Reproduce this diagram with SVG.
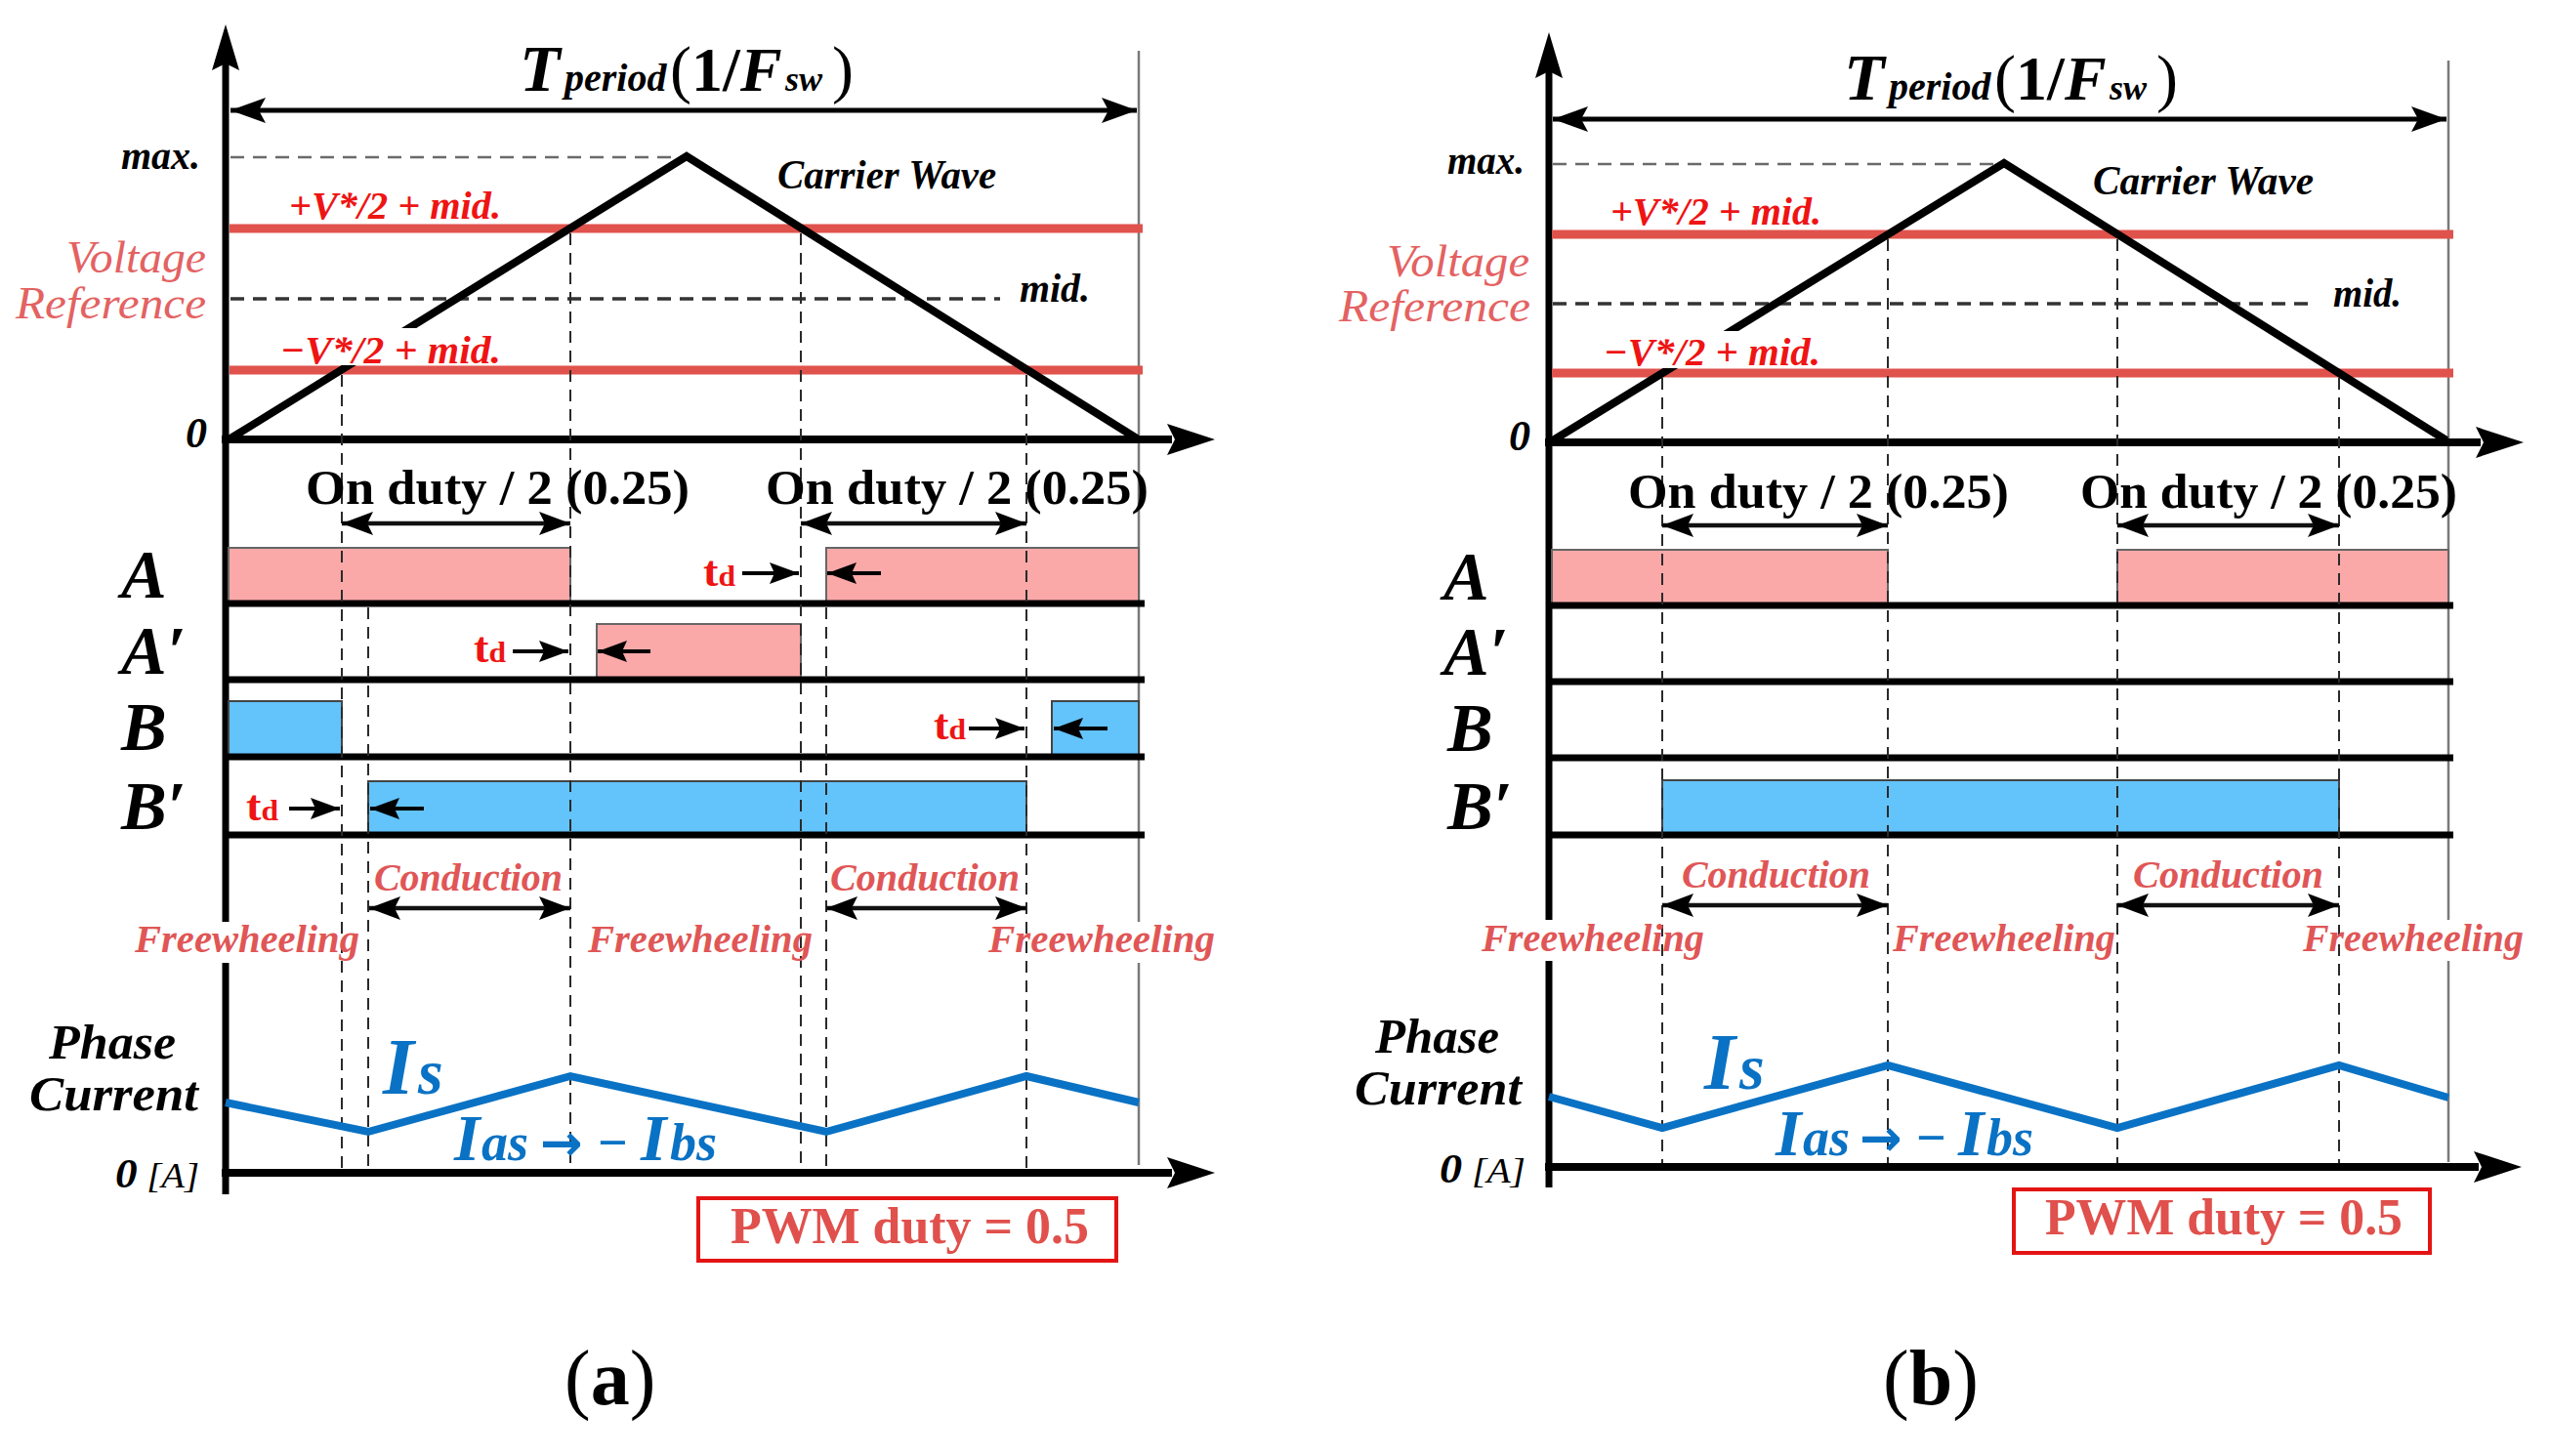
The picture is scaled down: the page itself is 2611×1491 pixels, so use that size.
<svg xmlns="http://www.w3.org/2000/svg" width="2611" height="1491" viewBox="0 0 2611 1491" font-family="'Liberation Serif', 'Times New Roman', serif">
<defs>
<style>
.t{font-family:"Liberation Serif","Times New Roman",serif}
.sym{font-family:"DejaVu Sans",sans-serif;font-style:normal;font-weight:700}
.bi{font-weight:700;font-style:italic}
.b{font-weight:700}
.i{font-style:italic}
.k{fill:#000}
.rd{fill:#ee1414}
.lr{fill:#e05656}
.lv{fill:#e36262}
.bu{fill:#0a72c4}
.pw{fill:#e0504c}
.ax{stroke:#000;stroke-width:7;fill:none}
.hx{stroke:#000;stroke-width:8;fill:none}
.bd{stroke:#7a7a7a;stroke-width:2.5}
.red{stroke:#e0524c;stroke-width:9}
.mx{stroke:#6a6a6a;stroke-width:2.5;stroke-dasharray:14 9}
.md{stroke:#333;stroke-width:3.5;stroke-dasharray:14 9}
.car{fill:none;stroke:#000;stroke-width:8;stroke-linejoin:miter}
.dash{stroke:#2a2a2a;stroke-width:2;stroke-dasharray:12 8;fill:none}
.pk{fill:#fba8a9;stroke:#666;stroke-width:2}
.bl{fill:#63c3fb;stroke:#444;stroke-width:2}
.base{stroke:#000;stroke-width:7}
.arr{stroke:#000;stroke-width:5;marker-start:url(#ah);marker-end:url(#ah)}
.arm{stroke:#111;stroke-width:4.5;marker-start:url(#am);marker-end:url(#am)}
.tda{stroke:#000;stroke-width:4;marker-end:url(#as)}
.cur{fill:none;stroke:#0a72c4;stroke-width:8;stroke-linejoin:miter}
.wb{fill:#fff}
.box{fill:#fff;stroke:#e41414;stroke-width:4}
</style>
<marker id="ah" viewBox="0 0 36 26" markerWidth="36" markerHeight="26" refX="36" refY="13" orient="auto-start-reverse" markerUnits="userSpaceOnUse"><path d="M0,0 L36,13 L0,26 L7,13 z" fill="#000"/></marker>
<marker id="am" viewBox="0 0 32 24" markerWidth="32" markerHeight="24" refX="32" refY="12" orient="auto-start-reverse" markerUnits="userSpaceOnUse"><path d="M0,0 L32,12 L0,24 L6,12 z" fill="#000"/></marker>
<marker id="as" viewBox="0 0 30 22" markerWidth="30" markerHeight="22" refX="30" refY="11" orient="auto" markerUnits="userSpaceOnUse"><path d="M0,0 L30,11 L0,22 L5,11 z" fill="#000"/></marker>
</defs>
<rect width="2611" height="1491" fill="#fff"/>

<!-- ================= PANEL A ================= -->
<g id="panel-a">
 <g id="a-axes">
  <line class="bd" x1="1166" y1="52" x2="1166" y2="1193"/>
  <line class="ax" x1="231" y1="60" x2="231" y2="1223"/>
  <polygon points="231,25 217,72 231,65 245,72" fill="#000"/>
  <line class="hx" x1="227" y1="450" x2="1200" y2="450"/>
  <polygon points="1244,450 1195,434 1203,450 1195,466" fill="#000"/>
  <line class="hx" x1="227" y1="1201" x2="1200" y2="1201"/>
  <polygon points="1244,1201 1195,1185 1203,1201 1195,1217" fill="#000"/>
 </g>
 <g id="a-period">
  <line class="arr" x1="236" y1="113" x2="1164" y2="113"/>
  <text class="t k" y="93"><tspan class="bi" x="532" font-size="68">T</tspan><tspan class="bi" x="578" font-size="40">period</tspan><tspan x="686" font-size="66">(</tspan><tspan class="b" x="708" font-size="64">1</tspan><tspan class="b" x="740" font-size="64">/</tspan><tspan class="bi" x="758" font-size="64">F</tspan><tspan class="bi" x="804" font-size="36">sw</tspan><tspan x="852" font-size="66">)</tspan></text>
 </g>
 <g id="a-carrier">
  <line class="mx" x1="236" y1="161" x2="703" y2="161"/>
  <line class="md" x1="236" y1="306" x2="1024" y2="306"/>
  <line class="red" x1="235" y1="234" x2="1170" y2="234"/>
  <line class="red" x1="235" y1="379" x2="1170" y2="379"/>
  <polyline class="car" points="236,449 703,160 1164,449"/>
  <rect class="wb" x="283" y="336" width="234" height="38"/>
  <text class="t bi k" x="124" y="173" font-size="42" textLength="81" lengthAdjust="spacingAndGlyphs">max.</text>
  <text class="t bi rd" x="296" y="224" font-size="40" textLength="217" lengthAdjust="spacingAndGlyphs">+V*/2 + mid.</text>
  <text class="t i lv" x="68" y="279" font-size="46" textLength="143" lengthAdjust="spacingAndGlyphs">Voltage</text>
  <text class="t i lv" x="16" y="326" font-size="46" textLength="195" lengthAdjust="spacingAndGlyphs">Reference</text>
  <text class="t bi k" x="1044" y="309" font-size="42" textLength="72" lengthAdjust="spacingAndGlyphs">mid.</text>
  <text class="t bi rd" x="287" y="372" font-size="40" textLength="226" lengthAdjust="spacingAndGlyphs">−V*/2 + mid.</text>
  <text class="t bi k" x="190" y="458" font-size="44">0</text>
  <text class="t bi k" x="796" y="193" font-size="42" textLength="224" lengthAdjust="spacingAndGlyphs">Carrier Wave</text>
 </g>
 <g id="a-switches">
  <rect class="pk" x="234" y="561" width="350" height="57"/>
  <rect class="pk" x="846" y="561" width="320" height="57"/>
  <rect class="pk" x="611" y="639" width="209" height="57"/>
  <rect class="bl" x="234" y="718" width="116" height="57"/>
  <rect class="bl" x="1077" y="718" width="89" height="57"/>
  <rect class="bl" x="377" y="800" width="674" height="55"/>
  <line class="base" x1="231" y1="618" x2="1172" y2="618"/>
  <line class="base" x1="231" y1="696" x2="1172" y2="696"/>
  <line class="base" x1="231" y1="775" x2="1172" y2="775"/>
  <line class="base" x1="231" y1="855" x2="1172" y2="855"/>
  <text class="t bi k" x="124" y="612" font-size="70">A</text>
  <text class="t bi k" x="124" y="690" font-size="70">A′</text>
  <text class="t bi k" x="124" y="768" font-size="70">B</text>
  <text class="t bi k" x="124" y="849" font-size="70">B′</text>
 </g>
 <g id="a-freewheel-bg">
  <rect class="wb" x="136" y="944" width="236" height="42"/>
  <rect class="wb" x="598" y="944" width="236" height="42"/>
  <rect class="wb" x="1008" y="944" width="238" height="42"/>
 </g>
 <g id="a-dashes">
  <line class="dash" x1="350" y1="384" x2="350" y2="1197"/>
  <line class="dash" x1="377" y1="622" x2="377" y2="1197"/>
  <line class="dash" x1="584" y1="239" x2="584" y2="1197"/>
  <line class="dash" x1="820" y1="239" x2="820" y2="1197"/>
  <line class="dash" x1="846" y1="622" x2="846" y2="1197"/>
  <line class="dash" x1="1051" y1="384" x2="1051" y2="1197"/>
 </g>
 <g id="a-onduty">
  <line class="arm" x1="350" y1="536" x2="584" y2="536"/>
  <line class="arm" x1="820" y1="536" x2="1051" y2="536"/>
  <text class="t b k" x="313" y="516" font-size="50" textLength="393" lengthAdjust="spacingAndGlyphs">On duty / 2 (0.25)</text>
  <text class="t b k" x="784" y="516" font-size="50" textLength="392" lengthAdjust="spacingAndGlyphs">On duty / 2 (0.25)</text>
 </g>
 <g id="a-deadtime">
  <text class="t b rd" x="720" y="600" textLength="33" lengthAdjust="spacingAndGlyphs"><tspan font-size="44">t</tspan><tspan font-size="30">d</tspan></text>
  <line class="tda" x1="760" y1="587" x2="818" y2="587"/>
  <line class="tda" x1="902" y1="587" x2="847" y2="587"/>
  <text class="t b rd" x="485" y="678" textLength="33" lengthAdjust="spacingAndGlyphs"><tspan font-size="44">t</tspan><tspan font-size="30">d</tspan></text>
  <line class="tda" x1="525" y1="667" x2="582" y2="667"/>
  <line class="tda" x1="666" y1="667" x2="612" y2="667"/>
  <text class="t b rd" x="956" y="757" textLength="33" lengthAdjust="spacingAndGlyphs"><tspan font-size="44">t</tspan><tspan font-size="30">d</tspan></text>
  <line class="tda" x1="992" y1="746" x2="1049" y2="746"/>
  <line class="tda" x1="1134" y1="746" x2="1079" y2="746"/>
  <text class="t b rd" x="252" y="840" textLength="33" lengthAdjust="spacingAndGlyphs"><tspan font-size="44">t</tspan><tspan font-size="30">d</tspan></text>
  <line class="tda" x1="296" y1="828" x2="348" y2="828"/>
  <line class="tda" x1="434" y1="828" x2="379" y2="828"/>
 </g>
 <g id="a-modes">
  <line class="arm" x1="378" y1="930" x2="584" y2="930"/>
  <line class="arm" x1="846" y1="930" x2="1051" y2="930"/>
  <text class="t bi lr" x="383" y="912" font-size="40" textLength="193" lengthAdjust="spacingAndGlyphs">Conduction</text>
  <text class="t bi lr" x="850" y="912" font-size="40" textLength="194" lengthAdjust="spacingAndGlyphs">Conduction</text>
  <text class="t bi lr" x="138" y="975" font-size="40" textLength="230" lengthAdjust="spacingAndGlyphs">Freewheeling</text>
  <text class="t bi lr" x="602" y="975" font-size="40" textLength="230" lengthAdjust="spacingAndGlyphs">Freewheeling</text>
  <text class="t bi lr" x="1012" y="975" font-size="40" textLength="232" lengthAdjust="spacingAndGlyphs">Freewheeling</text>
 </g>
 <g id="a-current">
  <polyline class="cur" points="231,1129 377,1159 584,1102 846,1159 1051,1102 1166,1129"/>
  <text class="t bi k" x="50" y="1084" font-size="50" textLength="130" lengthAdjust="spacingAndGlyphs">Phase</text>
  <text class="t bi k" x="30" y="1137" font-size="50" textLength="173" lengthAdjust="spacingAndGlyphs">Current</text>
  <text class="t k" x="118" y="1216" textLength="86" lengthAdjust="spacingAndGlyphs"><tspan class="bi" font-size="42">0</tspan><tspan class="i" font-size="36"> [A]</tspan></text>
  <text class="t bi bu" y="1120"><tspan x="392" font-size="82">I</tspan><tspan x="428" font-size="66">s</tspan></text>
  <text class="t bi bu" y="1188"><tspan x="465" font-size="68">I</tspan><tspan x="493" font-size="54">as</tspan><tspan class="sym" x="553" font-size="52">→</tspan><tspan x="612" font-size="54" font-style="normal">−</tspan><tspan x="656" font-size="68">I</tspan><tspan x="686" font-size="54">bs</tspan></text>
 </g>
 <g id="a-duty">
  <rect class="box" x="715" y="1227" width="428" height="64"/>
  <text class="t b pw" x="748" y="1273" font-size="52" textLength="367" lengthAdjust="spacingAndGlyphs">PWM duty = 0.5</text>
 </g>
 <text id="a-caption" class="t k" x="578" y="1438" font-size="80"><tspan>(</tspan><tspan class="b">a</tspan><tspan>)</tspan></text>
</g>

<!-- ================= PANEL B ================= -->
<g id="panel-b">
 <g id="b-axes">
  <line class="bd" x1="2507" y1="62" x2="2507" y2="1190"/>
  <line class="ax" x1="1586" y1="68" x2="1586" y2="1216"/>
  <polygon points="1586,33 1572,80 1586,73 1600,80" fill="#000"/>
  <line class="hx" x1="1582" y1="453" x2="2540" y2="453"/>
  <polygon points="2584,453 2535,437 2543,453 2535,469" fill="#000"/>
  <line class="hx" x1="1582" y1="1195" x2="2538" y2="1195"/>
  <polygon points="2582,1195 2533,1179 2541,1195 2533,1211" fill="#000"/>
 </g>
 <g id="b-period">
  <line class="arr" x1="1590" y1="122" x2="2505" y2="122"/>
  <text class="t k" y="102"><tspan class="bi" x="1888" font-size="68">T</tspan><tspan class="bi" x="1934" font-size="40">period</tspan><tspan x="2042" font-size="66">(</tspan><tspan class="b" x="2064" font-size="64">1</tspan><tspan class="b" x="2096" font-size="64">/</tspan><tspan class="bi" x="2114" font-size="64">F</tspan><tspan class="bi" x="2160" font-size="36">sw</tspan><tspan x="2208" font-size="66">)</tspan></text>
 </g>
 <g id="b-carrier">
  <line class="mx" x1="1590" y1="168" x2="2050" y2="168"/>
  <line class="md" x1="1590" y1="311" x2="2370" y2="311"/>
  <line class="red" x1="1589" y1="240" x2="2512" y2="240"/>
  <line class="red" x1="1589" y1="382" x2="2512" y2="382"/>
  <polyline class="car" points="1590,451 2052,167 2505,451"/>
  <rect class="wb" x="1638" y="339" width="230" height="38"/>
  <text class="t bi k" x="1482" y="178" font-size="42" textLength="79" lengthAdjust="spacingAndGlyphs">max.</text>
  <text class="t bi rd" x="1649" y="230" font-size="40" textLength="216" lengthAdjust="spacingAndGlyphs">+V*/2 + mid.</text>
  <text class="t i lv" x="1420" y="283" font-size="46" textLength="146" lengthAdjust="spacingAndGlyphs">Voltage</text>
  <text class="t i lv" x="1371" y="329" font-size="46" textLength="196" lengthAdjust="spacingAndGlyphs">Reference</text>
  <text class="t bi k" x="2389" y="314" font-size="42" textLength="70" lengthAdjust="spacingAndGlyphs">mid.</text>
  <text class="t bi rd" x="1642" y="374" font-size="40" textLength="222" lengthAdjust="spacingAndGlyphs">−V*/2 + mid.</text>
  <text class="t bi k" x="1545" y="461" font-size="44">0</text>
  <text class="t bi k" x="2143" y="199" font-size="42" textLength="226" lengthAdjust="spacingAndGlyphs">Carrier Wave</text>
 </g>
 <g id="b-switches">
  <rect class="pk" x="1589" y="563" width="344" height="57"/>
  <rect class="pk" x="2168" y="563" width="339" height="57"/>
  <rect class="bl" x="1702" y="799" width="693" height="56"/>
  <line class="base" x1="1586" y1="620" x2="2512" y2="620"/>
  <line class="base" x1="1586" y1="698" x2="2512" y2="698"/>
  <line class="base" x1="1586" y1="776" x2="2512" y2="776"/>
  <line class="base" x1="1586" y1="855" x2="2512" y2="855"/>
  <text class="t bi k" x="1478" y="614" font-size="70">A</text>
  <text class="t bi k" x="1478" y="691" font-size="70">A′</text>
  <text class="t bi k" x="1482" y="769" font-size="70">B</text>
  <text class="t bi k" x="1482" y="849" font-size="70">B′</text>
 </g>
 <g id="b-freewheel-bg">
  <rect class="wb" x="1514" y="942" width="234" height="42"/>
  <rect class="wb" x="1935" y="942" width="234" height="42"/>
  <rect class="wb" x="2355" y="942" width="232" height="42"/>
 </g>
 <g id="b-dashes">
  <line class="dash" x1="1702" y1="387" x2="1702" y2="1191"/>
  <line class="dash" x1="1933" y1="245" x2="1933" y2="1191"/>
  <line class="dash" x1="2168" y1="245" x2="2168" y2="1191"/>
  <line class="dash" x1="2395" y1="387" x2="2395" y2="1191"/>
 </g>
 <g id="b-onduty">
  <line class="arm" x1="1702" y1="538" x2="1933" y2="538"/>
  <line class="arm" x1="2168" y1="538" x2="2395" y2="538"/>
  <text class="t b k" x="1667" y="520" font-size="50" textLength="390" lengthAdjust="spacingAndGlyphs">On duty / 2 (0.25)</text>
  <text class="t b k" x="2130" y="520" font-size="50" textLength="386" lengthAdjust="spacingAndGlyphs">On duty / 2 (0.25)</text>
 </g>
 <g id="b-modes">
  <line class="arm" x1="1702" y1="927" x2="1933" y2="927"/>
  <line class="arm" x1="2168" y1="927" x2="2395" y2="927"/>
  <text class="t bi lr" x="1722" y="909" font-size="40" textLength="193" lengthAdjust="spacingAndGlyphs">Conduction</text>
  <text class="t bi lr" x="2184" y="909" font-size="40" textLength="195" lengthAdjust="spacingAndGlyphs">Conduction</text>
  <text class="t bi lr" x="1517" y="974" font-size="40" textLength="228" lengthAdjust="spacingAndGlyphs">Freewheeling</text>
  <text class="t bi lr" x="1938" y="974" font-size="40" textLength="228" lengthAdjust="spacingAndGlyphs">Freewheeling</text>
  <text class="t bi lr" x="2358" y="974" font-size="40" textLength="226" lengthAdjust="spacingAndGlyphs">Freewheeling</text>
 </g>
 <g id="b-current">
  <polyline class="cur" points="1586,1123 1702,1155 1933,1091 2168,1155 2395,1091 2507,1124"/>
  <text class="t bi k" x="1408" y="1078" font-size="50" textLength="127" lengthAdjust="spacingAndGlyphs">Phase</text>
  <text class="t bi k" x="1387" y="1131" font-size="50" textLength="171" lengthAdjust="spacingAndGlyphs">Current</text>
  <text class="t k" x="1474" y="1211" textLength="88" lengthAdjust="spacingAndGlyphs"><tspan class="bi" font-size="42">0</tspan><tspan class="i" font-size="36"> [A]</tspan></text>
  <text class="t bi bu" y="1115"><tspan x="1745" font-size="82">I</tspan><tspan x="1781" font-size="66">s</tspan></text>
  <text class="t bi bu" y="1183"><tspan x="1818" font-size="68">I</tspan><tspan x="1846" font-size="54">as</tspan><tspan class="sym" x="1904" font-size="52">→</tspan><tspan x="1962" font-size="54" font-style="normal">−</tspan><tspan x="2005" font-size="68">I</tspan><tspan x="2034" font-size="54">bs</tspan></text>
 </g>
 <g id="b-duty">
  <rect class="box" x="2062" y="1218" width="426" height="65"/>
  <text class="t b pw" x="2094" y="1264" font-size="52" textLength="366" lengthAdjust="spacingAndGlyphs">PWM duty = 0.5</text>
 </g>
 <text id="b-caption" class="t k" x="1928" y="1438" font-size="80"><tspan>(</tspan><tspan class="b">b</tspan><tspan>)</tspan></text>
</g>
</svg>
